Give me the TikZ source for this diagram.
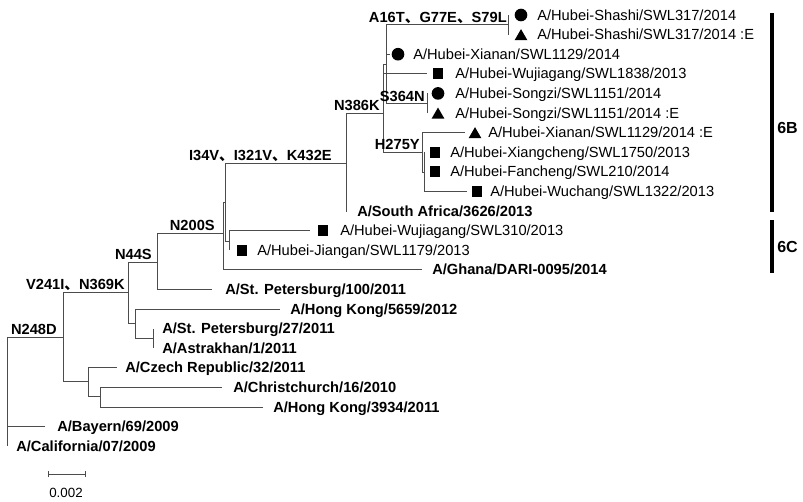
\documentclass[tikz,border=0pt]{standalone}
\usepackage{fontspec}
\setmainfont{Liberation Sans}
\newfontfamily\cjk{Noto Sans CJK SC}
\usetikzlibrary{shapes.geometric,arrows.meta}
\newcommand{\dun}{{\cjk 、}}

\begin{document}
\begin{tikzpicture}[x=0.75pt, y=-0.75pt,
  branch/.style={draw=black!70, line width=0.6pt},
  strain/.style={anchor=base west, inner sep=0pt, font=\fontsize{11}{13}\selectfont},
  refstrain/.style={strain, font=\fontsize{11}{13}\selectfont\bfseries},
  mut/.style={anchor=base east, inner sep=0pt, font=\fontsize{11}{13}\selectfont\bfseries},
  dotmark/.style={circle, fill=black, inner sep=0pt, minimum size=9.5pt},
  sqmark/.style={rectangle, fill=black, inner sep=0pt, minimum size=8pt},
  trimark/.style={regular polygon, regular polygon sides=3, fill=black, inner sep=0pt,
    minimum size=11pt, yshift=-1.4pt},
  clade/.style={line width=3pt, black},
  cladelabel/.style={anchor=west, inner sep=0pt, font=\fontsize{12}{14}\selectfont\bfseries}
]
\useasboundingbox (0,0) rectangle (803,501);

% Internal nodes of the tree
\coordinate (root) at (7,390);
\coordinate (n248) at (63,337);
\coordinate (v241) at (128,292);
\coordinate (n44)  at (157,262);
\coordinate (n200) at (223,233);
\coordinate (in1)  at (225,202);
\coordinate (i34)  at (346,163);
\coordinate (n386) at (383,113);
\coordinate (in2)  at (386,64);
\coordinate (a16)  at (508,24.8);
\coordinate (s364) at (427,103.2);
\coordinate (h275) at (422,152);
\coordinate (in3)  at (424,172);
\coordinate (in4)  at (229,241);
\coordinate (in5)  at (135,323);
\coordinate (in6)  at (153,338);
\coordinate (in7)  at (88,381);
\coordinate (in8)  at (100,396);

% Tips (end of each branch)
\coordinate (e1)  at (508,15);
\coordinate (e2)  at (508,34.6);
\coordinate (e3)  at (390,54.2);
\coordinate (e4)  at (427,73.8);
\coordinate (e5)  at (427,93.4);
\coordinate (e6)  at (427,113);
\coordinate (e7)  at (465,132.6);
\coordinate (e8)  at (424,152.2);
\coordinate (e9)  at (424,171.8);
\coordinate (e10) at (467,191.4);
\coordinate (e11) at (347,211);
\coordinate (e12) at (310,230.6);
\coordinate (e13) at (229,250.2);
\coordinate (e14) at (422,269.8);
\coordinate (e15) at (212,289.4);
\coordinate (e16) at (280,309);
\coordinate (e17) at (153,328.6);
\coordinate (e18) at (153,348.2);
\coordinate (e19) at (117,367.8);
\coordinate (e20) at (222,387.4);
\coordinate (e21) at (263,407);
\coordinate (e22) at (45,426.6);
\coordinate (e23) at (7,446.2);

% Branches
\draw[branch] (root) |- (n248) (root) |- (e22) (root) |- (e23);
\draw[branch] (n248) |- (v241) (n248) |- (in7);
\draw[branch] (in7) |- (e19) (in7) |- (in8);
\draw[branch] (in8) |- (e20) (in8) |- (e21);
\draw[branch] (v241) |- (n44) (v241) |- (in5);
\draw[branch] (in5) |- (e16) (in5) |- (in6);
\draw[branch] (in6) |- (e17) (in6) |- (e18);
\draw[branch] (n44) |- (n200) (n44) |- (e15);
\draw[branch] (n200) |- (in1) (n200) |- (e14);
\draw[branch] (in1) |- (i34) (in1) |- (in4);
\draw[branch] (in4) |- (e12) (in4) |- (e13);
\draw[branch] (i34) |- (n386) (i34) |- (e11);
\draw[branch] (n386) |- (in2) (n386) |- (e4) (n386) |- (h275);
\draw[branch] (in2) |- (a16) (in2) |- (e3) (in2) |- (s364);
\draw[branch] (a16) |- (e1) (a16) |- (e2);
\draw[branch] (s364) |- (e5) (s364) |- (e6);
\draw[branch] (h275) |- (e7) (h275) |- (in3);
\draw[branch] (in3) |- (e8) (in3) |- (e9) (in3) |- (e10);

% Mutations on branches
\node[mut] (mN248) at (57,334) {N248D};
\node[mut] (mV241) at (125,289) {V241I\dun N369K};
\node[mut] (mN44)  at (152,259) {N44S};
\node[mut] (mN200) at (215,230) {N200S};
\node[mut] (mI34)  at (332,160) {I34V\dun I321V\dun K432E};
\node[mut] (mN386) at (380,110) {N386K};
\node[mut] (mS364) at (425,101) {S364N};
\node[mut] (mH275) at (420,149) {H275Y};
\node[mut] (mA16)  at (507,22)  {A16T\dun G77E\dun S79L};

% Hubei strains with markers
\node[dotmark] (k1) at (521,15) {};
\node[strain] (t1) at (537,20) {A/Hubei-Shashi/SWL317/2014};
\node[trimark] (k2) at (521,34.6) {};
\node[strain] (t2) at (537,39.6) {A/Hubei-Shashi/SWL317/2014 :E};
\node[dotmark] (k3) at (398,54.2) {};
\node[strain] (t3) at (413,59.2) {A/Hubei-Xianan/SWL1129/2014};
\node[sqmark] (k4) at (438,73.8) {};
\node[strain] (t4) at (455,78.8) {A/Hubei-Wujiagang/SWL1838/2013};
\node[dotmark] (k5) at (438,93.4) {};
\node[strain] (t5) at (455,98.4) {A/Hubei-Songzi/SWL1151/2014};
\node[trimark] (k6) at (438,113) {};
\node[strain] (t6) at (455,118) {A/Hubei-Songzi/SWL1151/2014 :E};
\node[trimark] (k7) at (475,132.6) {};
\node[strain] (t7) at (488,137.6) {A/Hubei-Xianan/SWL1129/2014 :E};
\node[sqmark] (k8) at (435,152.2) {};
\node[strain] (t8) at (450,157.2) {A/Hubei-Xiangcheng/SWL1750/2013};
\node[sqmark] (k9) at (435,171.8) {};
\node[strain] (t9) at (450,176.8) {A/Hubei-Fancheng/SWL210/2014};
\node[sqmark] (k10) at (477,191.4) {};
\node[strain] (t10) at (490,196.4) {A/Hubei-Wuchang/SWL1322/2013};
\node[sqmark] (k12) at (323,230.6) {};
\node[strain] (t12) at (340,235.6) {A/Hubei-Wujiagang/SWL310/2013};
\node[sqmark] (k13) at (242,250.2) {};
\node[strain] (t13) at (257,255.2) {A/Hubei-Jiangan/SWL1179/2013};

% Reference strains
\node[refstrain] (t11) at (357,216)   {A/South Africa/3626/2013};
\node[refstrain] (t14) at (432,274.8) {A/Ghana/DARI-0095/2014};
\node[refstrain] (t15) at (225,294.4) {A/St. Petersburg/100/2011};
\node[refstrain] (t16) at (290,314)   {A/Hong Kong/5659/2012};
\node[refstrain] (t17) at (162,333.6) {A/St. Petersburg/27/2011};
\node[refstrain] (t18) at (162,353.2) {A/Astrakhan/1/2011};
\node[refstrain] (t19) at (125,372.8) {A/Czech Republic/32/2011};
\node[refstrain] (t20) at (233,392.4) {A/Christchurch/16/2010};
\node[refstrain] (t21) at (273,412)   {A/Hong Kong/3934/2011};
\node[refstrain] (t22) at (57,431.6)  {A/Bayern/69/2009};
\node[refstrain] (t23) at (16,451.2)  {A/California/07/2009};

% Clade bars
\coordinate (b6Btop) at (772,13);
\coordinate (b6Bbot) at (772,212);
\coordinate (b6Ctop) at (772,220);
\coordinate (b6Cbot) at (772,273);
\draw[clade] (b6Btop) -- (b6Bbot);
\draw[clade] (b6Ctop) -- (b6Cbot);
\node[cladelabel] (l6B) at (777,128) {6B};
\node[cladelabel] (l6C) at (777,247) {6C};

% Scale bar
\coordinate (sbl) at (48,474);
\coordinate (sbr) at (86,474);
\draw[branch, {Bar[width=4.5pt]}-{Bar[width=4.5pt]}] (sbl) -- (sbr);
\node[font=\fontsize{10}{12}\selectfont, inner sep=0pt] (sbtext) at (66,493) {0.002};
\end{tikzpicture}
\end{document}
